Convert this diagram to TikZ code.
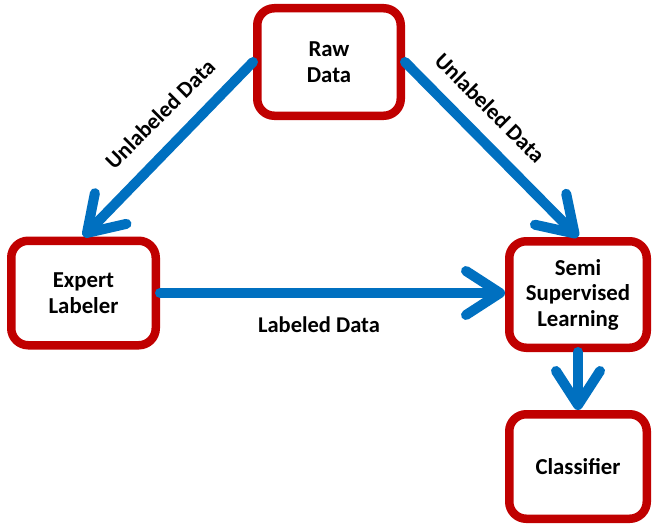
\documentclass[tikz,border=0pt]{standalone}
\usepackage{fontspec}
\setmainfont{Carlito}
\usetikzlibrary{arrows.meta}
\definecolor{boxred}{RGB}{192,0,0}
\definecolor{arrblue}{RGB}{0,112,192}
\begin{document}
\begin{tikzpicture}[x=1pt,y=-1pt,
  box/.style={draw=boxred, line width=8.5pt, rounded corners=17pt, fill=white,
    inner sep=0pt, align=center, font=\bfseries\fontsize{22.8}{25.5}\selectfont},
  flow/.style={draw=arrblue, line width=10pt, line cap=round,
    -{Straight Barb[length=34pt, width=44pt, line cap=round, line join=round]}},
  lab/.style={font=\bfseries\fontsize{22.5}{25}\selectfont, inner sep=0pt}]
\useasboundingbox (0,0) rectangle (652,524);
\node[box, minimum width=143.5pt, minimum height=107.5pt] (raw) at (329,62) {Raw\\Data};
\node[box, minimum width=144.5pt, minimum height=104.5pt] (el) at (83.5,293) {Expert\\Labeler};
\node[box, minimum width=137.5pt, minimum height=106.5pt] (ssl) at (578,294.5) {Semi\\Supervised\\Learning};
\node[box, minimum width=137.5pt, minimum height=104.5pt] (cls) at (578,466.5) {Classifier};
\coordinate (h) at (0,293);
\draw[flow] (raw.west) -- (el.north);
\draw[flow] (raw.east) -- (ssl.north);
\draw[flow] (el.east) -- (ssl.west |- h);
\draw[flow] (ssl.south) -- (cls.north);
\node[lab, rotate=45] (l1) at (160,114) {Unlabeled Data};
\node[lab, rotate=-45] (l2) at (490,108) {Unlabeled Data};
\node[lab] (l3) at (319,325) {Labeled Data};
\end{tikzpicture}
\end{document}
